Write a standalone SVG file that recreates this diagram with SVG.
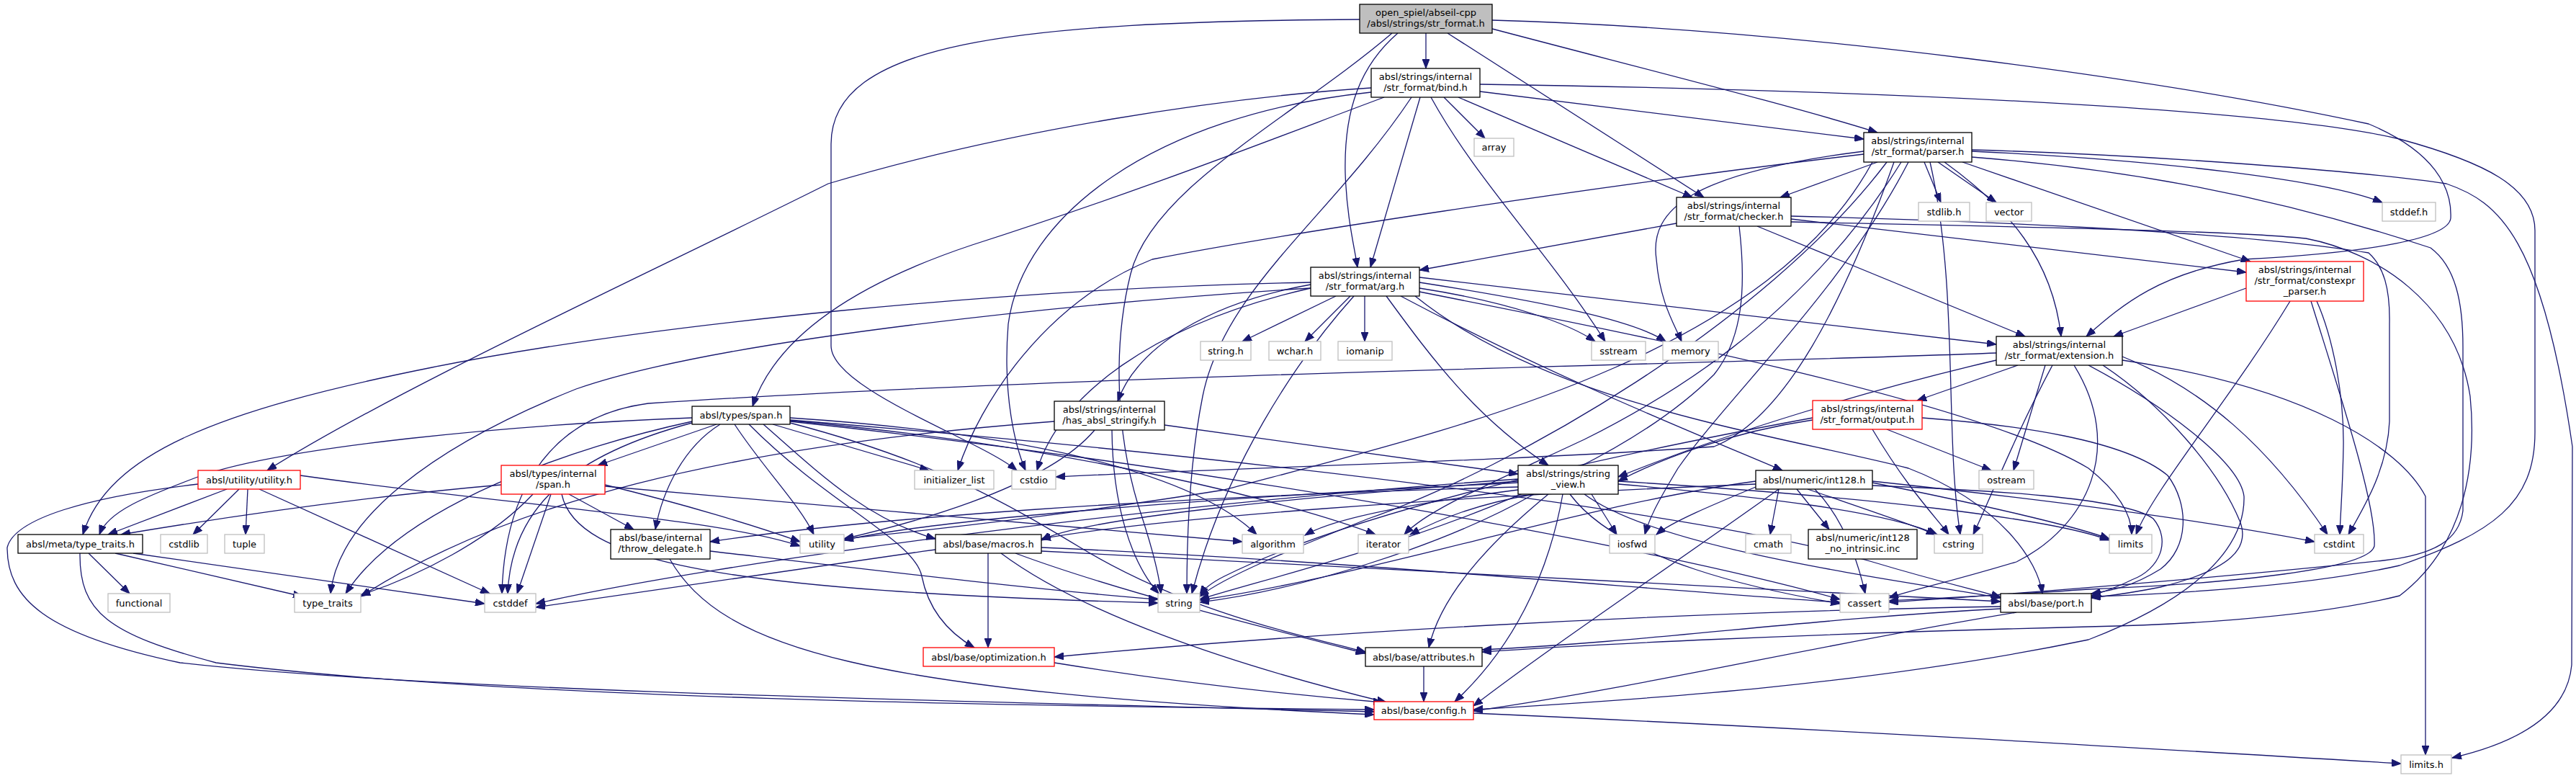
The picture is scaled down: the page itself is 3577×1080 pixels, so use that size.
<svg xmlns="http://www.w3.org/2000/svg" width="3577" height="1080" viewBox="0 0 3577 1080">
<style>
rect{fill:#fff;stroke:#000;stroke-width:1.3}
.g rect{stroke:#bfbfbf}
.r rect{stroke:#ff0000}
.root rect{fill:#bfbfbf}
text{font-family:"DejaVu Sans","Liberation Sans",sans-serif;font-size:13px;text-anchor:middle;fill:#000}
#edges path{fill:none;stroke:#191970;stroke-width:1.3;marker-end:url(#a)}
</style>
<defs>
<marker id="a" markerWidth="14" markerHeight="10" refX="13" refY="5" orient="auto" markerUnits="userSpaceOnUse"><path d="M0,0 L13,5 L0,10 z" fill="#191970" stroke="#191970" stroke-width="1"/></marker>
</defs>
<rect x="0" y="0" width="3577" height="1080" style="fill:#fff;stroke:none"/>
<g id="edges">
<path d="M1980,46 L1980,95"/>
<path d="M1941,46 C1890,90 1866,150 1868,240 C1870,300 1880,340 1885,371"/>
<path d="M2010,46 L2366,274"/>
<path d="M2072,40 C2300,100 2500,150 2607,184"/>
<path d="M2072,28 C2500,40 3000,110 3289,172 C3380,210 3405,260 3403,303 C3400,330 3300,350 3116,360 C3000,380 2950,420 2897,467"/>
<path d="M1888,27 C1400,30 1154,60 1154,200 L1154,480 C1154,540 1360,610 1412,653"/>
<path d="M1933,46 C1800,160 1600,260 1570,380 C1545,480 1550,600 1580,700 C1600,760 1610,800 1612,824"/>
<path d="M2005,135 L2062,192"/>
<path d="M1972,135 L1903,371"/>
<path d="M2025,135 L2350,274"/>
<path d="M2055,127 L2588,193"/>
<path d="M1987,135 C2050,250 2150,350 2229,474"/>
<path d="M1922,135 C1800,180 1600,260 1350,340 C1200,390 1080,460 1045,564"/>
<path d="M1904,122 C1700,135 1400,180 1150,255 C900,380 550,540 371,653"/>
<path d="M1904,128 C1600,160 1420,300 1400,450 C1392,550 1410,620 1424,653"/>
<path d="M1960,135 C1850,300 1700,400 1670,550 C1650,650 1648,760 1648,824"/>
<path d="M2055,117 C2600,125 3150,150 3332,193 C3450,225 3520,260 3520,320 L3520,600 C3520,700 3460,740 3332,785 C3200,815 3000,825 2904,828"/>
<path d="M2607,225 L2472,274"/>
<path d="M2672,225 L2695,281"/>
<path d="M2691,225 L2772,281"/>
<path d="M2725,225 L3125,363"/>
<path d="M2700,225 C2790,290 2850,360 2862,467"/>
<path d="M2738,210 C3000,222 3230,250 3308,281"/>
<path d="M2738,208 C3000,215 3300,240 3397,255 C3470,280 3530,330 3572,620 L3571,923 C3565,990 3500,1030 3405,1052"/>
<path d="M2738,218 C2950,235 3150,270 3375,344 C3410,370 3420,420 3420,482 L3420,709 C3415,750 3380,770 3310,778 C3100,800 2800,825 2623,836"/>
<path d="M2588,210 C2350,240 2290,290 2300,360 C2305,420 2325,450 2335,474"/>
<path d="M2588,214 C2200,260 1750,330 1600,360 C1450,420 1360,560 1330,653"/>
<path d="M2650,225 C2560,400 2400,550 2330,650 C2300,700 2290,720 2284,742"/>
<path d="M2640,225 C2500,450 2300,560 2200,610 C2050,680 1980,710 1950,742"/>
<path d="M2630,225 C2560,420 2480,580 2380,620 C2100,640 1700,650 1466,662"/>
<path d="M2620,225 C2450,450 2100,650 1900,720 C1800,760 1700,800 1666,828"/>
<path d="M2680,225 C2720,400 2700,600 2722,742"/>
<path d="M2600,225 C2450,500 2000,600 1700,680 C1450,720 1250,740 1172,748"/>
<path d="M2328,310 L1971,375"/>
<path d="M2487,304 L3119,378"/>
<path d="M2440,314 L2812,467"/>
<path d="M2487,300 C2700,305 3100,320 3289,351 C3310,370 3319,400 3318,450 L3318,585 C3315,650 3285,700 3261,742"/>
<path d="M2487,308 C2800,315 3100,320 3202,331 C3300,350 3410,420 3430,550 C3440,650 3420,760 3332,827 C3200,860 3000,868 2900,870 C2500,880 2200,895 2058,905"/>
<path d="M2415,314 C2425,400 2420,470 2380,520 C2200,700 1800,790 1666,832"/>
<path d="M1855,411 L1725,474"/>
<path d="M1875,411 L1812,474"/>
<path d="M1895,411 L1895,474"/>
<path d="M1971,400 C2100,420 2180,450 2215,474"/>
<path d="M1971,392 C2150,420 2270,445 2313,474"/>
<path d="M1971,385 L2772,478"/>
<path d="M1820,395 C1680,420 1580,480 1552,557"/>
<path d="M1925,411 C1990,500 2050,580 2150,646"/>
<path d="M1945,411 C2150,520 2350,600 2475,653"/>
<path d="M1965,411 C2150,560 2450,600 2650,650 C2780,700 2830,780 2836,824"/>
<path d="M1971,405 C2300,470 2750,560 2900,650 C2950,690 2960,720 2960,742"/>
<path d="M1820,400 C1600,450 1470,550 1440,653"/>
<path d="M1880,411 C1800,500 1700,650 1655,824"/>
<path d="M1820,400 C1500,420 1000,470 800,540 C600,620 470,720 459,824"/>
<path d="M1820,392 C1400,400 900,450 600,510 C300,570 150,630 115,742"/>
<path d="M3119,400 L2935,467"/>
<path d="M3180,418 C3100,550 2990,680 2966,742"/>
<path d="M3217,418 C3240,470 3255,550 3254,620 C3253,680 3250,710 3249,742"/>
<path d="M3209,418 C3250,550 3300,700 3297,758 C3290,790 3100,810 2900,818 C2800,825 2700,830 2623,834"/>
<path d="M2802,507 L2662,556"/>
<path d="M2840,507 L2796,653"/>
<path d="M2947,495 C3060,540 3150,620 3232,742"/>
<path d="M2947,500 C3200,537 3332,620 3368,689 L3368,1048"/>
<path d="M2920,507 C3000,560 3080,650 3110,723 C3125,760 3100,790 3000,815 C2950,825 2920,828 2904,830"/>
<path d="M2880,507 C2950,620 2900,730 2800,780 C2700,810 2650,820 2623,830"/>
<path d="M2850,507 C2800,600 2760,700 2740,742"/>
<path d="M2772,500 C2600,540 2400,600 2247,662"/>
<path d="M2900,507 C3000,560 3110,640 3116,689 C3118,760 3050,830 2900,888 C2600,950 2300,970 2046,985"/>
<path d="M2772,490 C2400,505 1500,520 900,560 C750,580 700,700 697,824"/>
<path d="M2620,596 L2765,653"/>
<path d="M2669,580 C2800,590 2950,610 3010,660 C3040,700 3040,760 3000,790 C2960,815 2930,820 2904,824"/>
<path d="M2517,580 C2300,620 1900,700 1700,800 C1680,810 1670,820 1666,826"/>
<path d="M2600,596 C2650,680 2690,720 2706,742"/>
<path d="M2517,583 C2400,600 2300,640 2247,668"/>
<path d="M1617,590 L2108,658"/>
<path d="M1544,597 C1545,700 1570,780 1609,824"/>
<path d="M1464,585 C1000,620 700,700 501,828"/>
<path d="M1520,597 C1450,680 1250,730 1172,748"/>
<path d="M995,589 L830,646"/>
<path d="M1073,589 L1290,653"/>
<path d="M1097,580 C1400,600 1650,650 1745,742"/>
<path d="M1000,589 C950,620 920,680 910,735"/>
<path d="M1020,589 C1060,650 1110,700 1130,742"/>
<path d="M1060,589 C1130,650 1200,720 1299,748"/>
<path d="M961,585 C800,620 560,700 480,824"/>
<path d="M961,580 C700,590 400,620 280,660 C200,690 150,710 138,742"/>
<path d="M961,587 C800,630 710,700 705,824"/>
<path d="M1040,589 C1150,700 1270,750 1280,800 C1290,850 1320,880 1353,899"/>
<path d="M1097,587 C1300,640 1400,700 1500,760 C1650,850 1800,880 1896,905"/>
<path d="M1097,583 C1800,640 2400,720 2600,780 C2700,810 2750,820 2778,829"/>
<path d="M1097,585 C1700,650 2300,760 2555,832"/>
<path d="M1097,584 C1500,620 1800,700 1910,742"/>
<path d="M696,673 C500,690 300,720 168,742"/>
<path d="M790,686 L880,735"/>
<path d="M740,686 C680,750 580,800 501,826"/>
<path d="M765,686 L718,824"/>
<path d="M780,686 C800,780 1000,820 1608,837"/>
<path d="M840,673 C950,700 1050,730 1111,752"/>
<path d="M840,675 C1100,700 1500,730 1725,752"/>
<path d="M315,679 L150,742"/>
<path d="M332,679 L268,742"/>
<path d="M344,679 L341,742"/>
<path d="M360,679 L680,824"/>
<path d="M417,660 C700,700 1000,720 1111,758"/>
<path d="M275,672 C120,690 20,720 10,760 C10,830 60,880 250,920 C600,960 1400,975 1908,988"/>
<path d="M123,768 L180,824"/>
<path d="M160,768 L420,828"/>
<path d="M185,768 L673,838"/>
<path d="M111,768 C110,850 150,880 300,920 C700,970 1400,980 1908,985"/>
<path d="M986,765 C1200,790 1450,820 1608,832"/>
<path d="M930,776 C1000,900 1200,960 1908,992"/>
<path d="M2210,686 L2245,742"/>
<path d="M2130,686 C2050,700 2000,720 1958,742"/>
<path d="M2108,680 C1950,700 1850,720 1812,743"/>
<path d="M2108,670 C1700,690 1300,720 1172,750"/>
<path d="M2108,665 C1600,700 1000,780 744,838"/>
<path d="M2130,686 C2000,760 1800,820 1666,836"/>
<path d="M2180,686 C2250,780 2450,820 2555,838"/>
<path d="M2200,686 C2300,760 2600,800 2778,830"/>
<path d="M2150,686 C2060,760 2000,830 1984,899"/>
<path d="M2170,686 C2150,800 2100,900 2020,974"/>
<path d="M2108,668 C1800,690 1500,720 1446,750"/>
<path d="M2108,676 C1600,690 1200,720 986,752"/>
<path d="M2247,672 C2450,690 2620,710 2690,742"/>
<path d="M2247,668 C2600,690 2850,720 2929,750"/>
<path d="M2470,679 L2458,742"/>
<path d="M2495,679 L2540,735"/>
<path d="M2438,676 C2380,700 2320,725 2300,742"/>
<path d="M2510,679 C2600,710 2660,730 2688,742"/>
<path d="M2600,670 C2750,700 2880,730 2929,748"/>
<path d="M2600,668 C2900,700 3100,730 3214,752"/>
<path d="M2520,679 C2560,720 2580,780 2590,824"/>
<path d="M2600,674 C2750,680 2950,690 2990,720 C3015,750 3000,790 2960,805 C2940,815 2920,822 2904,827"/>
<path d="M2438,668 C2200,700 1900,800 1666,833"/>
<path d="M2470,679 C2300,800 2150,900 2046,980"/>
<path d="M2438,672 C2000,690 1600,720 1446,748"/>
<path d="M1372,768 L1372,899"/>
<path d="M1390,768 C1500,850 1700,920 1925,975"/>
<path d="M1410,768 C1550,820 1750,870 1896,907"/>
<path d="M1299,763 C1100,790 900,820 744,843"/>
<path d="M1446,760 C1900,780 2300,820 2555,836"/>
<path d="M1446,765 C2000,790 2500,820 2778,835"/>
<path d="M1464,920 C1650,950 1800,965 1920,975"/>
<path d="M1977,925 L1977,974"/>
<path d="M2778,842 C2300,850 1800,880 1464,912"/>
<path d="M2778,845 C2500,860 2300,890 2058,902"/>
<path d="M2800,850 C2500,900 2300,950 2046,987"/>
<path d="M2046,990 C2500,1010 3000,1040 3334,1060"/>
</g>
<g id="n_root" class="root"><rect x="1888" y="6" width="184" height="40"/><text x="1980" y="21.5">open_spiel/abseil-cpp</text><text x="1980" y="36.5">/absl/strings/str_format.h</text></g>
<g id="n_bind"><rect x="1904" y="95" width="151" height="40"/><text x="1979.5" y="110.5">absl/strings/internal</text><text x="1979.5" y="125.5">/str_format/bind.h</text></g>
<g id="n_array" class="g"><rect x="2047" y="192" width="55" height="25"/><text x="2074.5" y="209">array</text></g>
<g id="n_parser"><rect x="2588" y="184" width="150" height="41"/><text x="2663" y="199.5">absl/strings/internal</text><text x="2663" y="214.5">/str_format/parser.h</text></g>
<g id="n_checker"><rect x="2328" y="274" width="159" height="40"/><text x="2407.5" y="289.5">absl/strings/internal</text><text x="2407.5" y="304.5">/str_format/checker.h</text></g>
<g id="n_stdlib" class="g"><rect x="2664" y="281" width="71" height="26"/><text x="2699.5" y="298.5">stdlib.h</text></g>
<g id="n_vector" class="g"><rect x="2758" y="281" width="63" height="26"/><text x="2789.5" y="298.5">vector</text></g>
<g id="n_stddef" class="g"><rect x="3308" y="281" width="74" height="26"/><text x="3345" y="298.5">stddef.h</text></g>
<g id="n_arg"><rect x="1820" y="371" width="151" height="40"/><text x="1895.5" y="386.5">absl/strings/internal</text><text x="1895.5" y="401.5">/str_format/arg.h</text></g>
<g id="n_constexpr" class="r"><rect x="3119" y="363" width="163" height="55"/><text x="3200.5" y="378.5">absl/strings/internal</text><text x="3200.5" y="393.5">/str_format/constexpr</text><text x="3200.5" y="408.5">_parser.h</text></g>
<g id="n_stringh" class="g"><rect x="1667" y="474" width="70" height="26"/><text x="1702" y="491.5">string.h</text></g>
<g id="n_wchar" class="g"><rect x="1762" y="474" width="72" height="26"/><text x="1798" y="491.5">wchar.h</text></g>
<g id="n_iomanip" class="g"><rect x="1858" y="474" width="75" height="26"/><text x="1895.5" y="491.5">iomanip</text></g>
<g id="n_sstream" class="g"><rect x="2210" y="474" width="75" height="26"/><text x="2247.5" y="491.5">sstream</text></g>
<g id="n_memory" class="g"><rect x="2309" y="474" width="77" height="26"/><text x="2347.5" y="491.5">memory</text></g>
<g id="n_extension"><rect x="2772" y="467" width="175" height="40"/><text x="2859.5" y="482.5">absl/strings/internal</text><text x="2859.5" y="497.5">/str_format/extension.h</text></g>
<g id="n_span"><rect x="961" y="564" width="136" height="25"/><text x="1029" y="581">absl/types/span.h</text></g>
<g id="n_hasabsl"><rect x="1464" y="557" width="153" height="40"/><text x="1540.5" y="572.5">absl/strings/internal</text><text x="1540.5" y="587.5">/has_absl_stringify.h</text></g>
<g id="n_output" class="r"><rect x="2517" y="556" width="152" height="40"/><text x="2593" y="571.5">absl/strings/internal</text><text x="2593" y="586.5">/str_format/output.h</text></g>
<g id="n_utilityh" class="r"><rect x="275" y="653" width="142" height="26"/><text x="346" y="670.5">absl/utility/utility.h</text></g>
<g id="n_ispan" class="r"><rect x="696" y="646" width="144" height="40"/><text x="768" y="661.5">absl/types/internal</text><text x="768" y="676.5">/span.h</text></g>
<g id="n_initlist" class="g"><rect x="1270" y="653" width="110" height="26"/><text x="1325" y="670.5">initializer_list</text></g>
<g id="n_cstdio" class="g"><rect x="1405" y="653" width="61" height="26"/><text x="1435.5" y="670.5">cstdio</text></g>
<g id="n_stringview"><rect x="2108" y="646" width="139" height="40"/><text x="2177.5" y="661.5">absl/strings/string</text><text x="2177.5" y="676.5">_view.h</text></g>
<g id="n_int128"><rect x="2438" y="653" width="162" height="26"/><text x="2519" y="670.5">absl/numeric/int128.h</text></g>
<g id="n_ostream" class="g"><rect x="2748" y="653" width="76" height="26"/><text x="2786" y="670.5">ostream</text></g>
<g id="n_metatt"><rect x="25" y="742" width="173" height="26"/><text x="111.5" y="759.5">absl/meta/type_traits.h</text></g>
<g id="n_cstdlib" class="g"><rect x="223" y="742" width="65" height="26"/><text x="255.5" y="759.5">cstdlib</text></g>
<g id="n_tuple" class="g"><rect x="312" y="742" width="55" height="26"/><text x="339.5" y="759.5">tuple</text></g>
<g id="n_throw"><rect x="848" y="735" width="138" height="41"/><text x="917" y="750.5">absl/base/internal</text><text x="917" y="765.5">/throw_delegate.h</text></g>
<g id="n_utility" class="g"><rect x="1111" y="742" width="61" height="26"/><text x="1141.5" y="759.5">utility</text></g>
<g id="n_macros"><rect x="1299" y="742" width="147" height="26"/><text x="1372.5" y="759.5">absl/base/macros.h</text></g>
<g id="n_algorithm" class="g"><rect x="1725" y="742" width="85" height="26"/><text x="1767.5" y="759.5">algorithm</text></g>
<g id="n_iterator" class="g"><rect x="1886" y="742" width="70" height="26"/><text x="1921" y="759.5">iterator</text></g>
<g id="n_iosfwd" class="g"><rect x="2235" y="742" width="63" height="26"/><text x="2266.5" y="759.5">iosfwd</text></g>
<g id="n_cmath" class="g"><rect x="2424" y="742" width="63" height="26"/><text x="2455.5" y="759.5">cmath</text></g>
<g id="n_int128ni"><rect x="2511" y="735" width="151" height="41"/><text x="2586.5" y="750.5">absl/numeric/int128</text><text x="2586.5" y="765.5">_no_intrinsic.inc</text></g>
<g id="n_cstring" class="g"><rect x="2686" y="742" width="67" height="26"/><text x="2719.5" y="759.5">cstring</text></g>
<g id="n_limits" class="g"><rect x="2929" y="742" width="59" height="26"/><text x="2958.5" y="759.5">limits</text></g>
<g id="n_cstdint" class="g"><rect x="3214" y="742" width="68" height="26"/><text x="3248" y="759.5">cstdint</text></g>
<g id="n_functional" class="g"><rect x="150" y="824" width="86" height="26"/><text x="193" y="841.5">functional</text></g>
<g id="n_typetraits" class="g"><rect x="409" y="824" width="92" height="26"/><text x="455" y="841.5">type_traits</text></g>
<g id="n_cstddef" class="g"><rect x="673" y="824" width="71" height="26"/><text x="708.5" y="841.5">cstddef</text></g>
<g id="n_string" class="g"><rect x="1608" y="824" width="58" height="26"/><text x="1637" y="841.5">string</text></g>
<g id="n_cassert" class="g"><rect x="2555" y="824" width="68" height="26"/><text x="2589" y="841.5">cassert</text></g>
<g id="n_port"><rect x="2778" y="824" width="126" height="26"/><text x="2841" y="841.5">absl/base/port.h</text></g>
<g id="n_optimization" class="r"><rect x="1282" y="899" width="182" height="26"/><text x="1373" y="916.5">absl/base/optimization.h</text></g>
<g id="n_attributes"><rect x="1896" y="899" width="162" height="26"/><text x="1977" y="916.5">absl/base/attributes.h</text></g>
<g id="n_config" class="r"><rect x="1908" y="974" width="138" height="25"/><text x="1977" y="991">absl/base/config.h</text></g>
<g id="n_limitsh" class="g"><rect x="3334" y="1048" width="70" height="26"/><text x="3369" y="1065.5">limits.h</text></g>
</svg>
